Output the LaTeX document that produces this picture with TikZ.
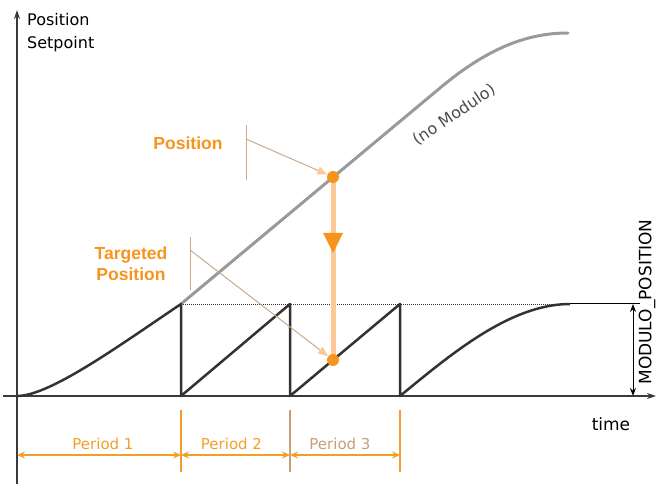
\documentclass[tikz,border=0pt]{standalone}
\usepackage{fontspec}
\setmainfont{DejaVu Sans}
\newfontfamily\calloutfont{Liberation Sans}
\usepackage{tikz}
\usetikzlibrary{arrows.meta, positioning, calc}
\usepackage{xcolor}
\definecolor{darkline}{HTML}{333333}
\definecolor{axisgray}{HTML}{3A3A3A}
\definecolor{nomodgray}{HTML}{9A9A9A}
\definecolor{markorange}{HTML}{F7941E}
\definecolor{peach}{HTML}{FCC896}
\definecolor{tan}{HTML}{C8AA8C}
\definecolor{periodorange}{HTML}{F0A028}
\definecolor{periodtan}{HTML}{C4A078}
\tikzstyle{axis}     = [line width=2pt, draw=axisgray, -{Stealth[length=9pt,width=6pt]}]
\tikzstyle{saw}      = [line width=2.5pt, draw=darkline, line join=round]
\tikzstyle{nomod}    = [line width=3pt, draw=nomodgray, line cap=round]
\tikzstyle{dot}      = [circle, fill=markorange, inner sep=0pt, minimum size=12pt]
\tikzstyle{callout}  = [line width=1pt, draw=tan]
\tikzstyle{pointer}  = [callout, -{Triangle[length=10pt,width=8pt,color=peach]}]
\tikzstyle{tag}      = [font=\calloutfont\fontsize{17.5}{21}\selectfont\bfseries,
                        text=markorange, align=center]
\tikzstyle{period}   = [line width=1.5pt, draw=periodorange,
                        {Stealth[length=8pt,width=7pt]}-{Stealth[length=8pt,width=7pt]}]
\tikzstyle{plabel}   = [font=\fontsize{15}{18}\selectfont, text=periodorange]

\begin{document}
\begin{tikzpicture}[x=1pt, y=-1pt]
  \useasboundingbox (0,0) rectangle (657,484);

  % Key points
  \coordinate (origin) at (17,396);
  \coordinate (p1top)  at (181,304);
  \coordinate (p1bot)  at (181,396);
  \coordinate (p2top)  at (290,304);
  \coordinate (p2bot)  at (290,396);
  \coordinate (p3top)  at (400,304);
  \coordinate (p3bot)  at (400,396);
  \coordinate (endtop) at (570,304);

  % Axes
  \draw[axis] (17,484) -- (17,10);
  \draw[axis] (3,396) -- (656,396);
  \node (ylabel) [anchor=west, align=left, inner sep=0pt,
                  font=\fontsize{16}{23}\selectfont] at (27,33) {Position\\Setpoint};
  \node (xlabel) [font=\fontsize{17}{20}\selectfont] at (611,424) {time};

  % Modulo level
  \draw[darkline, line width=0.8pt, dash pattern=on 1pt off 1pt] (p1top) -- (endtop);
  \draw[black, line width=1pt] (endtop) -- (640,304);
  \draw[black, line width=1pt, {Stealth[length=8pt,width=6pt]}-{Stealth[length=8pt,width=6pt]}]
       (633,304) -- (633,396);
  \node (modlabel) [rotate=90, font=\fontsize{17}{20}\selectfont] at (647,302) {MODULO\_POSITION};

  % Setpoint without modulo
  \draw[nomod] (p1top) -- (440,88) .. controls (490,46) and (530,33) .. (568,33);
  \node (nomodlabel) [rotate=34, text=black!70, font=\fontsize{16}{19}\selectfont]
       at (454,115) {(no Modulo)};

  % Sawtooth
  \draw[saw] (origin) .. controls (50,396) and (120,345) .. (p1top) -- (p1bot)
             -- (p2top) -- (p2bot) -- (p3top) -- (p3bot)
             .. controls (450,355) and (510,304) .. (endtop);

  % Position and targeted position
  \coordinate (drop) at (333,253);
  \draw[peach, line width=5pt] (333,177) -- (333,360);
  \fill[markorange] ($(drop)+(-10,-20)$) -- ($(drop)+(10,-20)$) -- (drop) -- cycle;
  \node (pos) [dot] at (333,177) {};
  \node (tgt) [dot] at (333,360) {};

  % Callouts
  \node (postag) [tag] at (188,143) {Position};
  \draw[callout] (246,125) -- (246,180);
  \coordinate (posbar) at (246,139);
  \draw[pointer] (posbar) -- (pos);

  \node (tgttag) [tag] at (131,264) {Targeted\\Position};
  \draw[callout] (190,237) -- (190,290);
  \coordinate (tgtbar) at (190,250);
  \draw[pointer] (tgtbar) -- (tgt);

  % Periods
  \draw[periodorange, line width=1.5pt] (181,410) -- (181,472);
  \draw[periodtan, line width=1.5pt] (290,410) -- (290,472);
  \draw[periodorange, line width=1.5pt] (400,410) -- (400,472);
  \draw[period] (17,455) -- node[plabel, above=1pt, xshift=4pt] {Period 1} (181,455);
  \draw[period] (181,455) -- node[plabel, above=1pt, xshift=-4pt] {Period 2} (290,455);
  \draw[period] (290,455) -- node[plabel, above=1pt, xshift=-5pt, text=periodtan] {Period 3} (400,455);

\end{tikzpicture}
\end{document}
